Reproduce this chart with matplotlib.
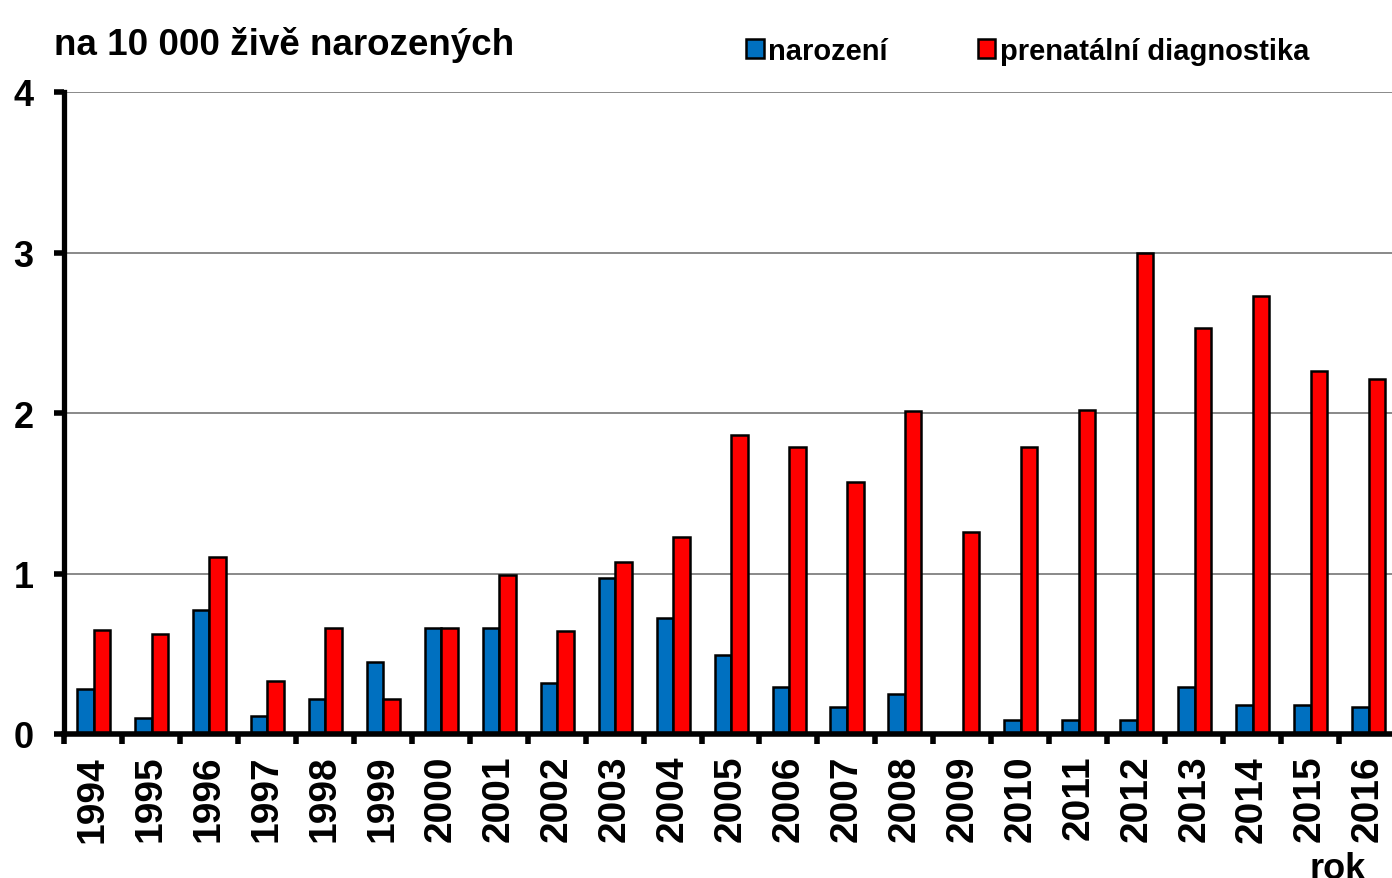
import matplotlib
matplotlib.use('Agg')
import numpy as np
import matplotlib.pyplot as plt
from matplotlib.patches import Patch

plt.rcParams['font.family'] = ['Liberation Sans', 'DejaVu Sans']
plt.rcParams['font.weight'] = 'bold'

years = [str(y) for y in range(1994, 2017)]
narozeni = [0.28, 0.10, 0.77, 0.11, 0.22, 0.45, 0.66, 0.66, 0.32, 0.97, 0.72, 0.49,
            0.29, 0.17, 0.25, 0.0, 0.09, 0.09, 0.09, 0.29, 0.18, 0.18, 0.17]
prenatalni = [0.65, 0.62, 1.10, 0.33, 0.66, 0.22, 0.66, 0.99, 0.64, 1.07, 1.23, 1.86,
              1.79, 1.57, 2.01, 1.26, 1.79, 2.02, 3.00, 2.53, 2.73, 2.26, 2.21]

W, H = 1392, 879
fig = plt.figure(figsize=(W / 100, H / 100), dpi=100)
# axes extends a little past the right edge, like the original crop
ax = fig.add_axes([64 / W, (H - 735) / H, 1333 / W, 642 / H])

x = np.arange(len(years))
w = 0.285
off = 0.01
blue = '#0070C0'
red = '#FF0000'
ax.bar(x - w / 2 + off, narozeni, w, color=blue, edgecolor='black', linewidth=1.8, zorder=3)
ax.bar(x + w / 2 + off, prenatalni, w, color=red, edgecolor='black', linewidth=1.8, zorder=3)

ax.set_xlim(-0.5, len(years) - 0.5)
ax.set_ylim(0, 4)
ax.set_yticks([0, 1, 2, 3, 4])
ax.set_yticklabels(['0', '1', '2', '3', '4'], fontsize=26, fontweight='bold')
ax.yaxis.grid(True, color='#808080', linewidth=1.3, zorder=0)

ax.set_xticks(x)
ax.set_xticklabels(years, rotation=90, fontsize=28, fontweight='bold')
ax.set_xticks(np.arange(len(years)) - 0.5, minor=True)
ax.tick_params(axis='x', which='major', length=0, pad=15)
ax.tick_params(axis='x', which='minor', length=7, width=4, direction='out', color='black')
ax.tick_params(axis='y', which='major', length=7, width=4, direction='out', pad=15)

for s in ['top', 'right']:
    ax.spines[s].set_visible(False)
ax.spines['left'].set_linewidth(3.8)
ax.spines['bottom'].set_linewidth(4)
ax.spines['bottom'].set_zorder(5)

fig.text(54 / W, (H - 45) / H, 'na 10 000 živě narozených', fontsize=26.5,
         fontweight='bold', ha='left', va='center')

handles = [Patch(facecolor=blue, edgecolor='black', linewidth=1.8),
           Patch(facecolor=red, edgecolor='black', linewidth=1.8)]
fig.legend(handles, ['narození', 'prenatální diagnostika'], ncol=2, frameon=False,
           loc='center left', bbox_to_anchor=(746 / W, (H - 52) / H),
           prop={'size': 21, 'weight': 'bold'}, handlelength=0.6, handleheight=0.6,
           handletextpad=0.15, columnspacing=3.1, borderaxespad=0, borderpad=0)

fig.text(1338 / W, (H - 852) / H, 'rok', fontsize=26, fontweight='bold',
         ha='center', va='top')

fig.savefig('out.png', dpi=100)
